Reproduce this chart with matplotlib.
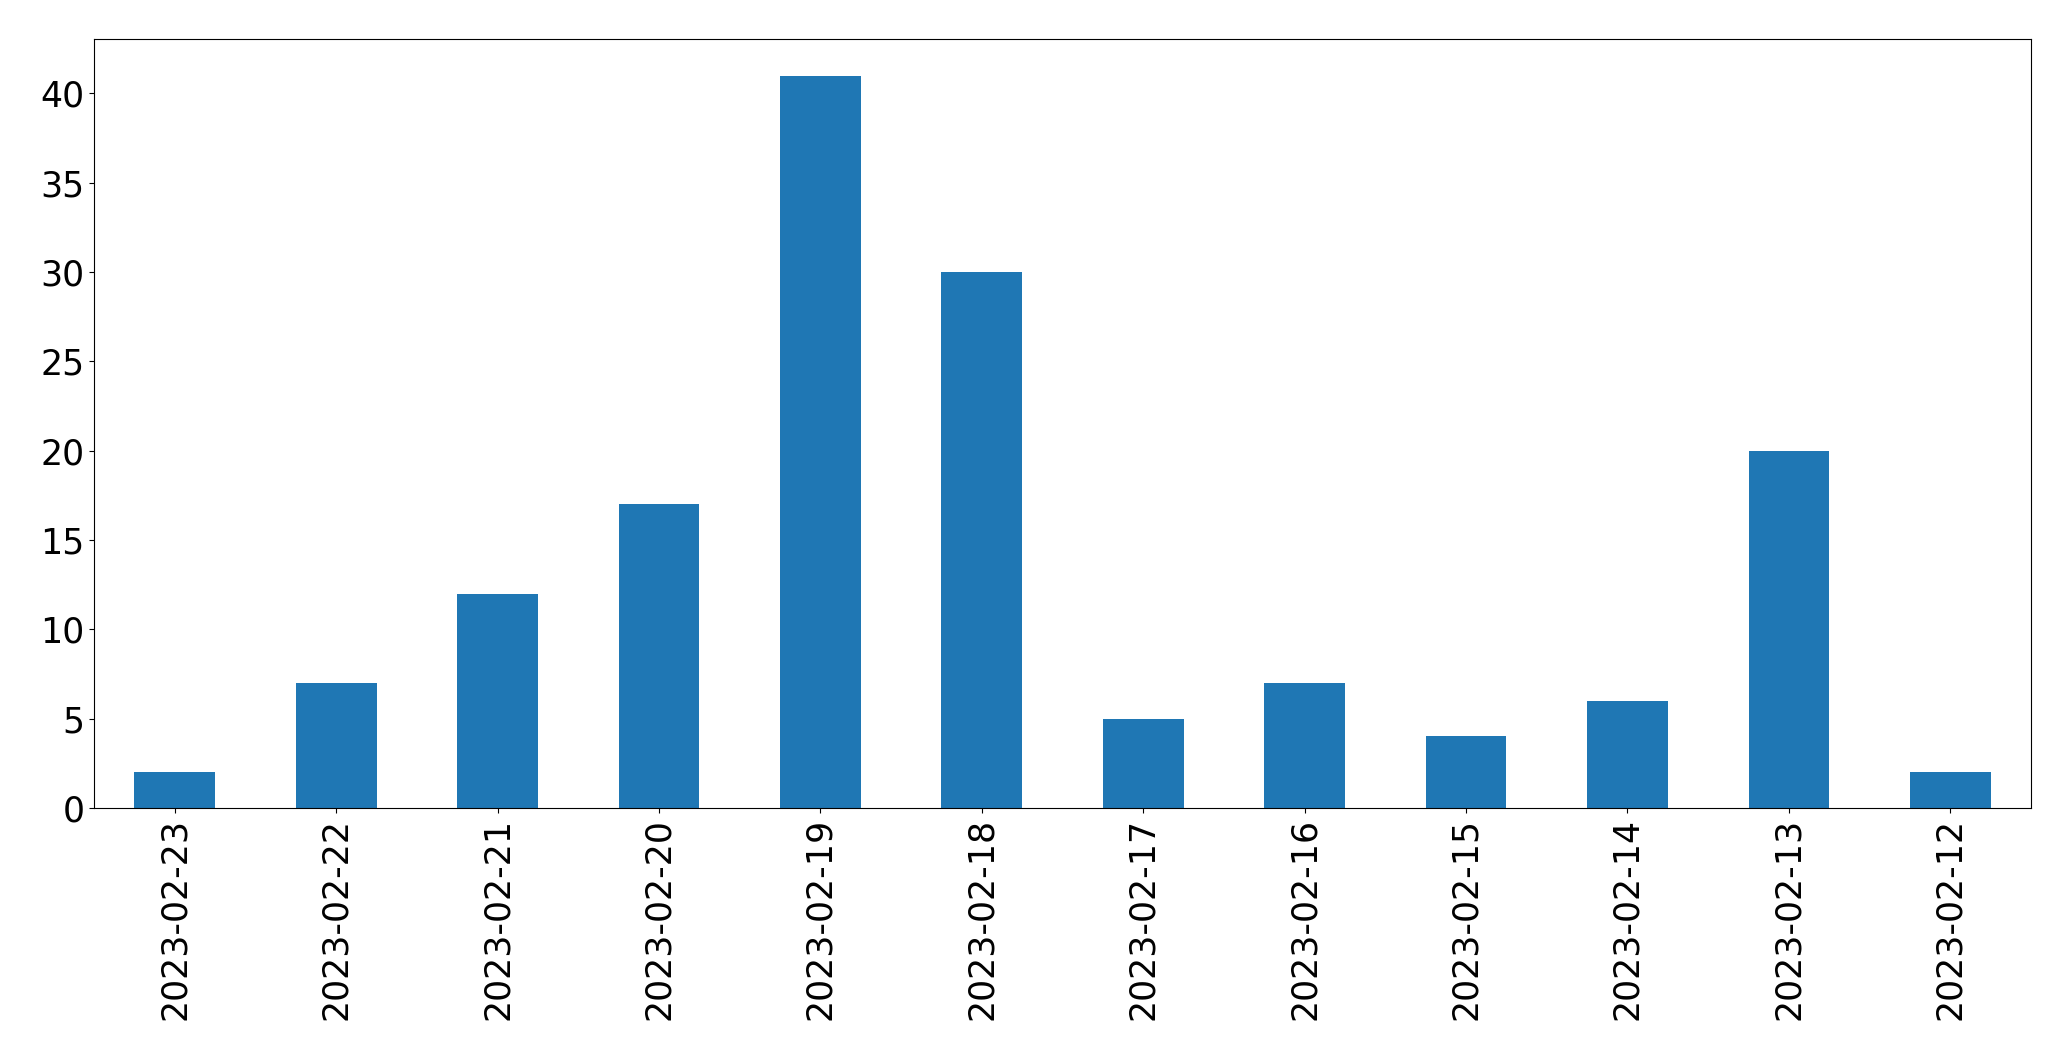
import matplotlib
matplotlib.use("Agg")
import matplotlib.pyplot as plt
import pandas as pd

dates = ["2023-02-23", "2023-02-22", "2023-02-21", "2023-02-20", "2023-02-19",
         "2023-02-18", "2023-02-17", "2023-02-16", "2023-02-15", "2023-02-14",
         "2023-02-13", "2023-02-12"]
counts = [2, 7, 12, 17, 41, 30, 5, 7, 4, 6, 20, 2]

s = pd.Series(counts, index=dates)

fig = plt.figure(figsize=(20.71, 10.61), dpi=100)
ax = fig.add_axes([0.0454, 0.2385, 0.9353, 0.7248])
s.plot(kind="bar", ax=ax, color="#1f77b4")
ax.tick_params(axis="both", labelsize=25)

fig.savefig("out.png", dpi=100)
